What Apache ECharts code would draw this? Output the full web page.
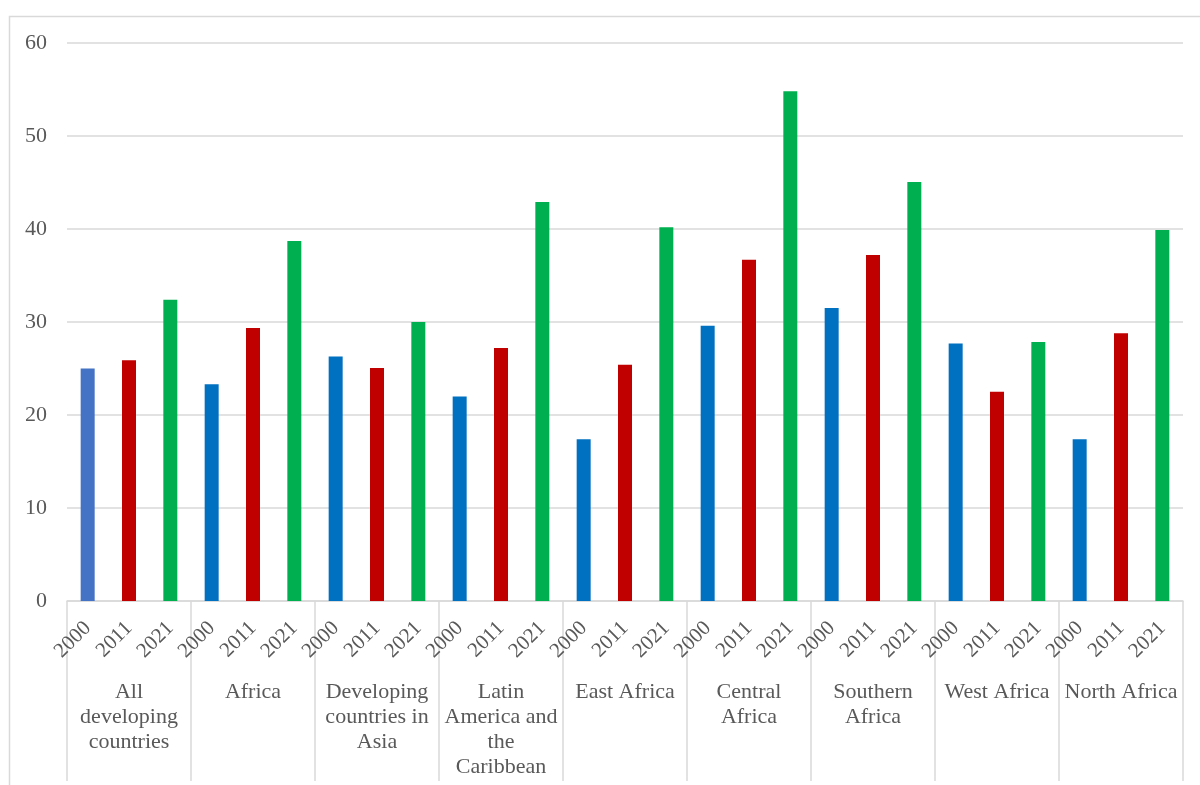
<!DOCTYPE html>
<html>
<head>
<meta charset="utf-8">
<script src="https://cdn.jsdelivr.net/npm/echarts@6/dist/echarts.min.js"></script>
<style>
  html, body { margin: 0; padding: 0; background: #fff; }
  #chart { width: 1200px; height: 785px; }
</style>
</head>
<body>
<div id="chart"></div>
<script>
// Regions (outer category level), wrapped as they are drawn under the axis
const regions = [
  'All\ndeveloping\ncountries',
  'Africa',
  'Developing\ncountries in\nAsia',
  'Latin\nAmerica and\nthe\nCaribbean',
  'East Africa',
  'Central\nAfrica',
  'Southern\nAfrica',
  'West Africa',
  'North Africa'
];
// Years (inner category level)
const years = ['2000', '2011', '2021'];

// Values per region for each year
const values2000 = [25.0, 23.3, 26.3, 22.0, 17.4, 29.6, 31.5, 27.7, 17.4];
const values2011 = [25.9, 29.35, 25.05, 27.2, 25.4, 36.7, 37.2, 22.5, 28.8];
const values2021 = [32.4, 38.7, 30.0, 42.9, 40.2, 54.8, 45.05, 27.85, 39.9];

// Y axis ticks
const yMin = 0, yMax = 60, yStep = 10;

const yearColors = ['#0070C0', '#C00000', '#00B050'];
const firstBarColor = '#4472C4';

// Flatten into one bar per (region, year)
const innerCats = [];
const barData = [];
const byYear = [values2000, values2011, values2021];
regions.forEach((r, gi) => {
  years.forEach((y, yi) => {
    innerCats.push(y);
    const color = (gi === 0 && yi === 0) ? firstBarColor : yearColors[yi];
    barData.push({ value: byYear[yi][gi], itemStyle: { color } });
  });
});

const textColor = '#595959';
const font = '"Liberation Serif", "Times New Roman", serif';
const lineColor = '#D9D9D9';

const chart = echarts.init(document.getElementById('chart'));
chart.setOption({
  animation: false,
  textStyle: { fontFamily: font },
  graphic: [{
    type: 'rect',
    shape: { x: 9.5, y: 16.5, width: 1210, height: 800 },
    style: { fill: 'none', stroke: lineColor, lineWidth: 1.5 },
    silent: true,
    z: -1
  }],
  grid: { left: 67, right: 17, top: 43, bottom: 184, containLabel: false },
  xAxis: [
    {
      type: 'category',
      data: innerCats,
      position: 'bottom',
      axisLine: { show: true, lineStyle: { color: lineColor, width: 1.5 } },
      axisTick: { show: false },
      axisLabel: {
        interval: 0,
        rotate: 45,
        margin: 24,
        color: textColor,
        fontFamily: font,
        fontSize: 21
      }
    },
    {
      type: 'category',
      data: regions,
      position: 'bottom',
      boundaryGap: true,
      axisLine: { show: false },
      axisTick: {
        show: true,
        interval: 0,
        length: 180,
        lineStyle: { color: lineColor, width: 1.5 }
      },
      axisLabel: {
        interval: 0,
        margin: 79,
        color: textColor,
        fontFamily: font,
        fontSize: 22,
        lineHeight: 25,
        verticalAlign: 'top',
        align: 'center'
      }
    }
  ],
  yAxis: {
    type: 'value',
    min: yMin,
    max: yMax,
    interval: yStep,
    axisLine: { show: false },
    axisTick: { show: false },
    axisLabel: { color: textColor, fontFamily: font, fontSize: 22, margin: 20 },
    splitLine: { lineStyle: { color: lineColor, width: 1.5 } }
  },
  series: [{
    type: 'bar',
    xAxisIndex: 0,
    data: barData,
    barWidth: 14
  }]
});
</script>
</body>
</html>
